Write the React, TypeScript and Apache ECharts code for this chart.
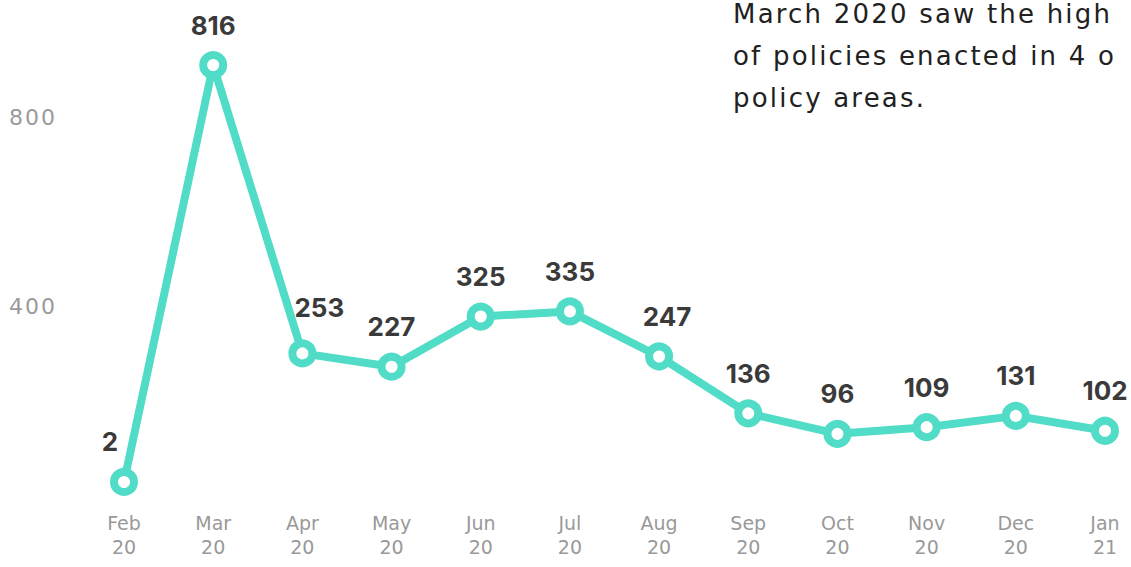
import React, { useEffect, useRef } from "react";
import * as echarts from "echarts";

const months = ["Feb\n20", "Mar\n20", "Apr\n20", "May\n20", "Jun\n20", "Jul\n20", "Aug\n20", "Sep\n20", "Oct\n20", "Nov\n20", "Dec\n20", "Jan\n21"];
const policies = [2, 816, 253, 227, 325, 335, 247, 136, 96, 109, 131, 102];
const yTicks = [400, 800];
const annotation = ["March 2020 saw the high", "of policies enacted in 4 o", "policy areas."];

const TEAL = "#50dcc6";
const FONT = 'Inter, "Open Sans", sans-serif';
const WIDE = '"DejaVu Sans", sans-serif';
const ANN_FILL = "#212121";
const TICK_FILL = "#9a9a9b";

const labelOffsets: Record<number, [number, number]> = {
  0: [-14, 0],
  2: [17, -6],
  6: [8, 0],
};

export default function App() {
  const ref = useRef<HTMLDivElement>(null);
  useEffect(() => {
    if (!ref.current) return;
    const chart = echarts.init(ref.current, null, { renderer: "svg" });
    chart.setOption({
      animation: false,
      backgroundColor: "#ffffff",
      grid: [
        { left: 124, right: 26, top: 22, bottom: 84 },
        { left: 57, right: 26, top: 117, bottom: 72 },
      ],
      xAxis: [
        {
          type: "category",
          gridIndex: 0,
          data: months,
          boundaryGap: false,
          axisLine: { show: false },
          axisTick: { show: false },
          splitLine: { show: false },
          axisLabel: {
            color: "#999999",
            fontFamily: WIDE,
            fontSize: 19,
            lineHeight: 24,
            margin: 28,
            align: "center",
          },
        },
        { type: "category", gridIndex: 1, data: months, show: false },
      ],
      yAxis: [
        { type: "value", gridIndex: 0, min: 0, max: 900, show: false },
        {
          type: "value",
          gridIndex: 1,
          min: 0,
          max: 800,
          interval: 400,
          axisLine: { show: false },
          axisTick: { show: false },
          splitLine: { show: false },
          axisLabel: {
            color: TICK_FILL,
            fontFamily: WIDE,
            fontSize: 22,
            margin: 0,
            formatter: (v: number) => (yTicks.includes(v) ? String(v) : ""),
          },
        },
      ],
      series: [
        {
          type: "line",
          xAxisIndex: 0,
          yAxisIndex: 0,
          data: policies.map((v, i) => ({
            value: v,
            label: labelOffsets[i] ? { offset: labelOffsets[i] } : undefined,
          })),
          lineStyle: { color: TEAL, width: 8 },
          itemStyle: { color: "#ffffff", borderColor: TEAL, borderWidth: 8 },
          symbol: "circle",
          symbolSize: 20,
          showAllSymbol: true,
          label: {
            show: true,
            position: "top",
            distance: 13,
            color: "#3a3a3a",
            fontFamily: FONT,
            fontWeight: "bold",
            fontSize: 26,
          },
        },
      ],
      graphic: annotation.map((line, i) => ({
        type: "text",
        x: 733,
        y: 14 + i * 42,
        style: {
          text: line,
          fill: ANN_FILL,
          font: `26px ${WIDE}`,
          verticalAlign: "middle",
          align: "left",
        },
      })),
    });
    return () => chart.dispose();
  }, []);
  return (
    <>
      <style>{`text[fill="${ANN_FILL}"] { letter-spacing: 2.2px; } text[fill="${TICK_FILL}"] { letter-spacing: 2px; }`}</style>
      <div
        ref={ref}
        style={{ position: "absolute", left: 0, top: 0, width: 1131, height: 567 }}
      />
    </>
  );
}
